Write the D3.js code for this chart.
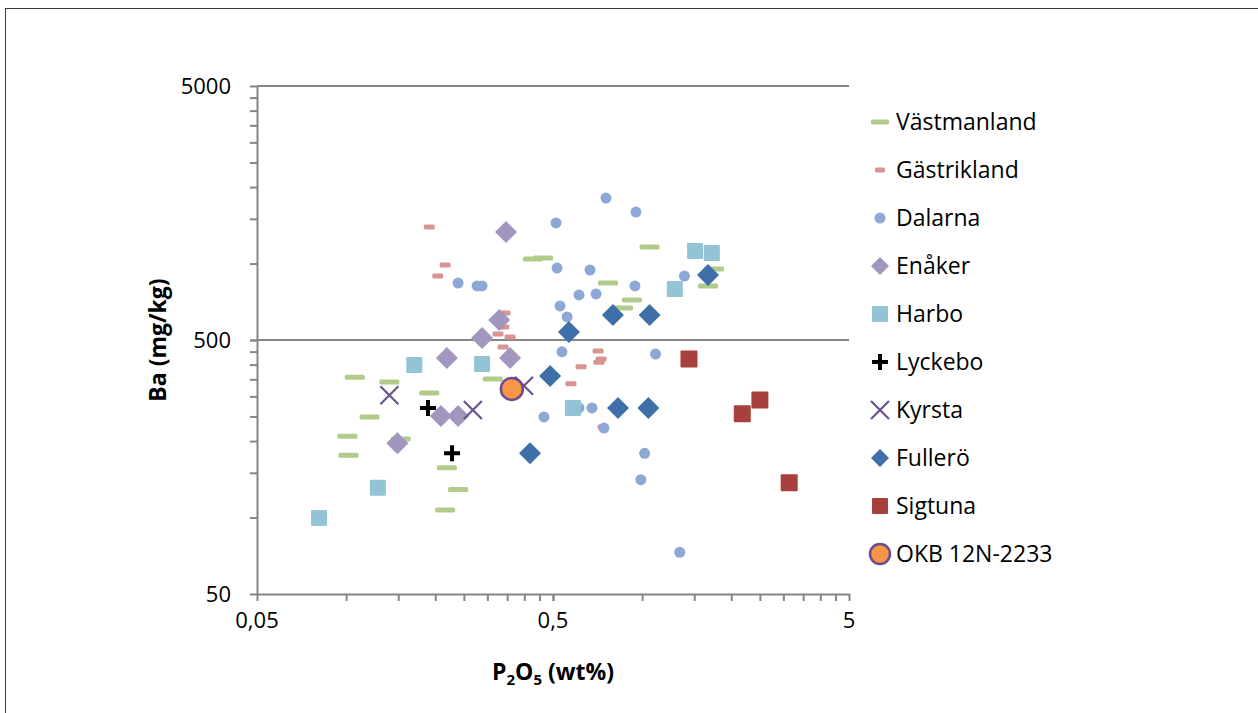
<!DOCTYPE html>
<html>
<head>
<meta charset="utf-8">
<script src="https://cdn.jsdelivr.net/npm/d3@7"></script>
<style>
  body { margin: 0; background: #fff; }
  text { font-family: "Open Sans", Lato, sans-serif; fill: #000; }
</style>
</head>
<body>
<div id="container"></div>
<script>
// P2O5 (wt%) vs Ba (mg/kg), [P2O5, Ba]
let vastmanland = [[0.107, 357], [0.140, 342], [0.191, 309], [0.313, 351], [0.101, 209], [0.102, 176],
  [0.120, 249], [0.153, 204], [0.219, 157], [0.239, 129], [0.216, 107], [0.428, 1042], [0.463, 1052],
  [1.06, 1161], [0.767, 838], [0.924, 719], [0.862, 669], [1.75, 952], [1.67, 816]];
let gastrikland = [[0.191, 1393], [0.216, 987], [0.204, 893], [0.344, 638], [0.341, 562], [0.326, 528],
  [0.358, 514], [0.339, 469], [0.710, 453], [0.727, 421], [0.715, 409], [0.622, 392], [0.575, 336], [0.738, 227]];
let dalarna = [[0.512, 1445], [0.755, 1811], [0.953, 1595], [0.239, 838], [0.277, 816], [0.288, 816],
  [0.516, 960], [0.667, 943], [1.39, 893], [0.946, 816], [0.612, 752], [0.699, 759], [0.528, 681],
  [0.558, 616], [0.536, 449], [1.11, 440], [0.466, 249], [0.612, 270], [0.677, 270], [0.743, 225],
  [1.02, 179], [0.99, 141], [1.34, 73]];
let enaker = [[0.347, 1330], [0.329, 600], [0.288, 509], [0.219, 425], [0.358, 425], [0.209, 251],
  [0.239, 251], [0.149, 196]];
let harbo = [[0.081, 99.6], [0.128, 131], [0.170, 399], [0.288, 402], [0.584, 270], [1.29, 794],
  [1.51, 1121], [1.72, 1101]];
let lyckebo = [[0.189, 270], [0.228, 179]];
let kyrsta = [[0.140, 303], [0.268, 265], [0.399, 330]];
let fullero = [[0.418, 179], [0.489, 361], [0.566, 537], [0.797, 627], [1.06, 627], [1.67, 901],
  [0.829, 270], [1.05, 270]];
let sigtuna = [[1.44, 421], [2.50, 290], [2.18, 256], [3.14, 137]];
let okb = [[0.363, 321]];

let seriesNames = ["Västmanland", "Gästrikland", "Dalarna", "Enåker", "Harbo", "Lyckebo", "Kyrsta",
  "Fullerö", "Sigtuna", "OKB 12N-2233"];
let seriesData = [vastmanland, gastrikland, dalarna, enaker, harbo, lyckebo, kyrsta, fullero, sigtuna, okb];

let xMajor = [0.05, 0.5, 5];
let xTickLabels = ["0,05", "0,5", "5"];
let yMajor = [50, 500, 5000];
let yTickLabels = ["50", "500", "5000"];

let w = 1258;
let h = 713;

let viz = d3.select("#container")
  .append("svg")
  .attr("width", w)
  .attr("height", h)
  .style("display", "block");

// outer chart frame
viz.append("rect")
  .attr("x", 5.5).attr("y", 8.5)
  .attr("width", 1260).attr("height", 720)
  .attr("fill", "none").attr("stroke", "#3a3a3a").attr("stroke-width", 1);

let xScale = d3.scaleLog().domain([0.05, 5]).range([257, 849]);
let yScale = d3.scaleLog().domain([50, 5000]).range([594, 86]);

// minor ticks: multiples of the decade start (0.05, 0.1, 0.15 ... like excel does)
function minorTicks(major) {
  let out = [];
  for (let k = 0; k < major.length - 1; k++) {
    for (let m = 1; m <= 10; m++) out.push(+(major[k] * m).toPrecision(6));
  }
  return out;
}
let xTicks = minorTicks(xMajor);
let yTicks = minorTicks(yMajor);

let axisColor = "#868686";

// horizontal gridlines at the major values
viz.append("g").selectAll("line")
  .data(yMajor.slice(1))
  .enter().append("line")
  .attr("x1", xScale(0.05)).attr("x2", xScale(5))
  .attr("y1", d => yScale(d)).attr("y2", d => yScale(d))
  .attr("stroke", axisColor).attr("stroke-width", 2);

let xAxisGroup = viz.append("g")
  .attr("transform", "translate(0," + yScale(50) + ")")
  .call(d3.axisBottom(xScale).tickValues(xTicks).tickSize(7).tickSizeOuter(0).tickFormat(""));
let yAxisGroup = viz.append("g")
  .attr("transform", "translate(" + xScale(0.05) + ",0)")
  .call(d3.axisLeft(yScale).tickValues(yTicks).tickSize(7).tickSizeOuter(0).tickFormat(""));
[xAxisGroup, yAxisGroup].forEach(function (g) {
  g.select(".domain").attr("stroke", axisColor).attr("stroke-width", 2);
  g.selectAll(".tick line").attr("stroke", axisColor).attr("stroke-width", 2);
});

// tick labels
viz.append("g").selectAll("text")
  .data(xMajor)
  .enter().append("text")
  .attr("x", d => xScale(d))
  .attr("y", 628)
  .attr("text-anchor", "middle")
  .attr("font-size", 22)
  .text((d, i) => xTickLabels[i]);

viz.append("g").selectAll("text")
  .data(yMajor)
  .enter().append("text")
  .attr("x", 231)
  .attr("y", d => yScale(d) + 8)
  .attr("text-anchor", "end")
  .attr("font-size", 22)
  .text((d, i) => yTickLabels[i]);

// axis titles
let xTitle = viz.append("text")
  .attr("x", 553).attr("y", 680)
  .attr("text-anchor", "middle")
  .attr("font-size", 23).attr("font-weight", "bold");
xTitle.append("tspan").text("P");
xTitle.append("tspan").text("2").attr("font-size", 15).attr("dy", 5);
xTitle.append("tspan").text("O").attr("dy", -5);
xTitle.append("tspan").text("5").attr("font-size", 15).attr("dy", 5);
xTitle.append("tspan").text(" (wt%)").attr("dy", -5);

viz.append("text")
  .attr("transform", "translate(166,340) rotate(-90)")
  .attr("text-anchor", "middle")
  .attr("font-size", 23).attr("font-weight", "bold")
  .text("Ba (mg/kg)");

// marker drawing
let markerStyles = [
  { type: "dash", fill: "#b0cb8a", w: 20, h: 5 },
  { type: "dash", fill: "#d99391", w: 11, h: 5 },
  { type: "circle", fill: "#8ea8d6", r: 5.5 },
  { type: "diamond", fill: "#a295be", s: 11 },
  { type: "square", fill: "#92c4d6", s: 16 },
  { type: "plus", stroke: "#000000", s: 8, sw: 4 },
  { type: "cross", stroke: "#6b5490", s: 9, sw: 2.2 },
  { type: "diamond", fill: "#3f6fa8", s: 11 },
  { type: "square", fill: "#a8403c", s: 17 },
  { type: "circle", fill: "#f79646", stroke: "#6b4a8f", sw: 2.5, r: 11 }
];

function drawMarker(g, st) {
  if (st.type == "dash") {
    g.append("rect").attr("x", -st.w / 2).attr("y", -st.h / 2).attr("width", st.w).attr("height", st.h)
      .attr("rx", 1.5).attr("fill", st.fill);
  } else if (st.type == "circle") {
    g.append("circle").attr("r", st.r).attr("fill", st.fill)
      .attr("stroke", st.stroke || "none").attr("stroke-width", st.sw || 0);
  } else if (st.type == "diamond") {
    let s = st.s;
    g.append("path").attr("d", "M0," + (-s) + "L" + s + ",0L0," + s + "L" + (-s) + ",0Z").attr("fill", st.fill);
  } else if (st.type == "square") {
    g.append("rect").attr("x", -st.s / 2).attr("y", -st.s / 2).attr("width", st.s).attr("height", st.s)
      .attr("rx", 1).attr("fill", st.fill);
  } else if (st.type == "plus") {
    g.append("path").attr("d", "M" + (-st.s) + ",0H" + st.s + "M0," + (-st.s) + "V" + st.s)
      .attr("stroke", st.stroke).attr("stroke-width", st.sw);
  } else if (st.type == "cross") {
    g.append("path").attr("d", "M" + (-st.s) + "," + (-st.s) + "L" + st.s + "," + st.s +
      "M" + (-st.s) + "," + st.s + "L" + st.s + "," + (-st.s))
      .attr("stroke", st.stroke).attr("stroke-width", st.sw);
  }
}

let pointsGroup = viz.append("g");
seriesData.forEach(function (data, si) {
  pointsGroup.append("g").selectAll("g")
    .data(data)
    .enter().append("g")
    .attr("transform", d => "translate(" + xScale(d[0]) + "," + yScale(d[1]) + ")")
    .each(function () { drawMarker(d3.select(this), markerStyles[si]); });
});

// legend
let legend = viz.append("g").selectAll("g")
  .data(seriesNames)
  .enter().append("g")
  .attr("transform", (d, i) => "translate(880," + (122 + i * 48) + ")");
legend.each(function (d, i) {
  let st = Object.assign({}, markerStyles[i]);
  if (st.type == "dash") st.w = i == 0 ? 18 : 10;
  if (st.type == "diamond") st.s = 9;
  if (st.type == "square") st.s = 16;
  if (st.type == "circle" && i == 9) st.r = 10;
  drawMarker(d3.select(this), st);
});
legend.append("text")
  .attr("x", 16).attr("y", 8)
  .attr("font-size", 23)
  .text(d => d);
</script>
</body>
</html>
